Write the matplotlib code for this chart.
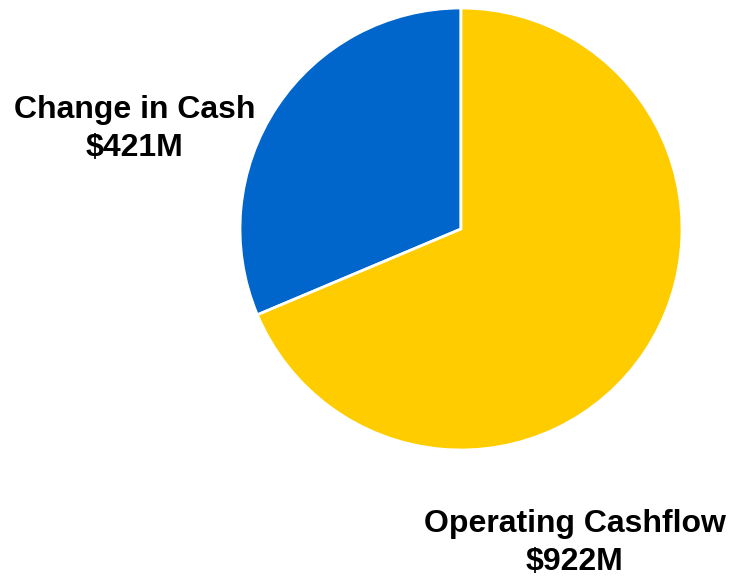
import matplotlib.pyplot as plt

# cash sources, $M
labels = ["Change in Cash", "Operating Cashflow"]
values = [421, 922]
colors = ["#0066CC", "#FFCC00"]

W, H = 731, 576
fig = plt.figure(figsize=(W / 100, H / 100), dpi=100)

# pie centre (461, 229) px, radius 221 px
cx, cy, r = 461, 229, 221
ax = fig.add_axes([(cx - r) / W, 1 - (cy + r) / H, 2 * r / W, 2 * r / H])
ax.pie(values, colors=colors, startangle=90, counterclock=True,
       wedgeprops=dict(edgecolor="white", linewidth=2))
ax.set_xlim(-1, 1)
ax.set_ylim(-1, 1)
ax.set_aspect("equal")

# label positions in pixels
pos = [(134.5, 129), (574.5, 543)]
for lab, v, (px, py) in zip(labels, values, pos):
    fig.text(px / W, 1 - py / H, f"{lab}\n${v}M", ha="center", va="center",
             fontsize=23, fontweight="bold", family="Liberation Sans",
             linespacing=1.32, color="black")

fig.savefig("out.png", dpi=100)
